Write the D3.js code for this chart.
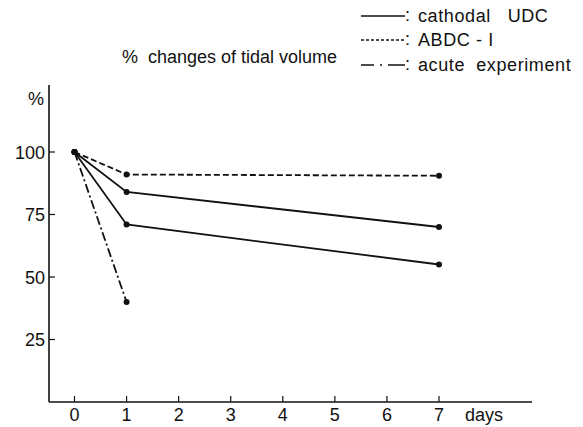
<!DOCTYPE html>
<html>
<head>
<meta charset="utf-8">
<script src="https://cdn.jsdelivr.net/npm/d3@7"></script>
<style>
  html, body { margin: 0; padding: 0; background: #fff; }
  svg { display: block; }
  text { font-family: "Liberation Sans", Arial, sans-serif; fill: #111; white-space: pre; }
</style>
</head>
<body>
<svg id="chart" width="583" height="427"></svg>
<script>
// Tidal volume changes (% of baseline) over days after treatment
const days = [0, 1, 7];
const cathodalHigh = [100, 84, 70];
const cathodalLow = [100, 71, 55];
const abdc = [100, 91, 90.5];
const acuteDays = [0, 1];
const acute = [100, 40];

const xTicks = [0, 1, 2, 3, 4, 5, 6, 7];
const yTicks = [25, 50, 75, 100];

const legendLabels = ["cathodal   UDC", "ABDC - I", "acute  experiment"];
const titleText = "%  changes of tidal volume";

const svg = d3.select("#chart");
const ink = "#111";
const fs = 18;

const x = d3.scaleLinear().domain([0, 7]).range([74.5, 439]);
const y = d3.scaleLinear().domain([0, 100]).range([402, 152]);

const axisLeft = 49;
const axisBottom = 402;

// axes as plain lines
svg.append("line")
  .attr("x1", axisLeft).attr("x2", axisLeft)
  .attr("y1", 85).attr("y2", axisBottom)
  .attr("stroke", ink).attr("stroke-width", 1.6);
svg.append("line")
  .attr("x1", axisLeft).attr("x2", 532)
  .attr("y1", axisBottom).attr("y2", axisBottom)
  .attr("stroke", ink).attr("stroke-width", 1.6);

// x ticks pointing up, labels below
const xg = svg.append("g");
xg.selectAll("line").data(xTicks).join("line")
  .attr("x1", d => x(d)).attr("x2", d => x(d))
  .attr("y1", axisBottom).attr("y2", axisBottom - 6)
  .attr("stroke", ink).attr("stroke-width", 1.2);
xg.selectAll("text").data(xTicks).join("text")
  .attr("x", d => x(d)).attr("y", 421)
  .attr("text-anchor", "middle")
  .attr("font-size", fs)
  .text(d => d);
svg.append("text")
  .attr("x", 465).attr("y", 421)
  .attr("font-size", fs)
  .text("days");

// y ticks pointing right, labels on the left
const yg = svg.append("g");
yg.selectAll("line").data(yTicks).join("line")
  .attr("x1", axisLeft).attr("x2", axisLeft + 6)
  .attr("y1", d => y(d)).attr("y2", d => y(d))
  .attr("stroke", ink).attr("stroke-width", 1.2);
yg.selectAll("text").data(yTicks).join("text")
  .attr("x", 45).attr("y", d => y(d) + 6.5)
  .attr("text-anchor", "end")
  .attr("font-size", fs)
  .text(d => d);
svg.append("text")
  .attr("x", 28).attr("y", 105)
  .attr("font-size", fs)
  .text("%");

// title
svg.append("text")
  .attr("x", 122).attr("y", 63)
  .attr("font-size", fs)
  .text(titleText);

// series
const series = [
  { xs: days, ys: cathodalHigh, dash: null },
  { xs: days, ys: cathodalLow, dash: null },
  { xs: days, ys: abdc, dash: "6,3" },
  { xs: acuteDays, ys: acute, dash: "9,3,2,3" }
];

const line = d3.line().x(d => x(d[0])).y(d => y(d[1]));

series.forEach(s => {
  const pts = s.xs.map((d, i) => [d, s.ys[i]]);
  svg.append("path")
    .attr("d", line(pts))
    .attr("fill", "none")
    .attr("stroke", ink)
    .attr("stroke-width", 1.8)
    .attr("stroke-dasharray", s.dash);
  svg.append("g").selectAll("circle").data(pts).join("circle")
    .attr("cx", d => x(d[0])).attr("cy", d => y(d[1]))
    .attr("r", 3)
    .attr("fill", ink);
});

// legend
const legendDash = [null, "3,2", "13,6,2,6,17"];
const legendY = [16, 40, 65];
legendLabels.forEach((lab, i) => {
  svg.append("line")
    .attr("x1", 361).attr("x2", 405)
    .attr("y1", legendY[i]).attr("y2", legendY[i])
    .attr("stroke", ink).attr("stroke-width", 1.5)
    .attr("stroke-dasharray", legendDash[i]);
  svg.append("text")
    .attr("x", 405).attr("y", legendY[i] + 5)
    .attr("font-size", fs)
    .text(":");
  svg.append("text")
    .attr("x", 418).attr("y", legendY[i] + 6)
    .attr("font-size", fs)
    .attr("letter-spacing", 0.6)
    .text(lab);
});
</script>
</body>
</html>
